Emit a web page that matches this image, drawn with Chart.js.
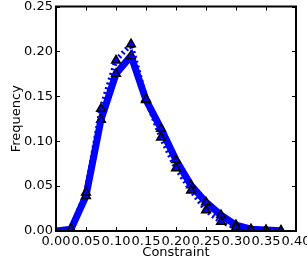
<!DOCTYPE html>
<html>
<head>
<meta charset="utf-8">
<script src="https://cdn.jsdelivr.net/npm/chart.js@4/dist/chart.umd.min.js"></script>
<style>
  html, body { margin: 0; padding: 0; background: #fff; }
  #wrap { width: 307px; height: 269px; }
</style>
</head>
<body>
<div id="wrap"><canvas id="myChart" width="307" height="269"></canvas></div>
<script>
// Constraint bins
const constraint = [0, 0.025, 0.05, 0.075, 0.1, 0.125, 0.15, 0.175, 0.2, 0.225, 0.25, 0.275, 0.3, 0.325, 0.35, 0.375];
// solid line
const freqSolid = [0, 0.002, 0.039, 0.124, 0.175, 0.195, 0.146, 0.114, 0.079, 0.051, 0.032, 0.0177, 0.0066, 0.002, 0.001, 0.0003];
// dotted line
const freqDotted = [0, 0.002, 0.043, 0.136, 0.190, 0.208, 0.147, 0.104, 0.070, 0.045, 0.023, 0.0103, 0.004, 0.001, 0.0005, 0.0002];
// tick labels
const xTicks = [0, 0.05, 0.1, 0.15, 0.2, 0.25, 0.3, 0.35, 0.4];
const yTicks = [0, 0.05, 0.1, 0.15, 0.2, 0.25];

const toPoints = (ys) => constraint.map((x, i) => ({ x: x, y: ys[i] }));
const pointSize = (ctx) => ctx.dataIndex === 0 ? 0 : 5;

// frame + inward ticks on all four sides (matplotlib style)
const framePlugin = {
    id: "frame",
    afterDatasetsDraw(chart) {
        const { ctx, chartArea: a, scales } = chart;
        ctx.save();
        ctx.strokeStyle = "#000";
        ctx.lineWidth = 1;
        scales.x.ticks.forEach(t => {
            const px = Math.round(scales.x.getPixelForValue(t.value)) + 0.5;
            ctx.beginPath();
            ctx.moveTo(px, a.bottom); ctx.lineTo(px, a.bottom - 4);
            ctx.moveTo(px, a.top); ctx.lineTo(px, a.top + 4);
            ctx.stroke();
        });
        scales.y.ticks.forEach(t => {
            const py = Math.round(scales.y.getPixelForValue(t.value)) + 0.5;
            ctx.beginPath();
            ctx.moveTo(a.left, py); ctx.lineTo(a.left + 4, py);
            ctx.moveTo(a.right, py); ctx.lineTo(a.right - 4, py);
            ctx.stroke();
        });
        ctx.lineWidth = 2;
        ctx.strokeRect(a.left, a.top, a.right - a.left, a.bottom - a.top);
        ctx.restore();
    }
};

const font = { family: "'DejaVu Sans'", size: 13 };

new Chart(document.getElementById("myChart"), {
    type: "line",
    data: {
        datasets: [
            {
                label: "solid",
                data: toPoints(freqSolid),
                borderColor: "rgb(0,0,255)",
                borderWidth: 7,
                backgroundColor: "rgb(0,0,255)",
                pointStyle: "triangle",
                pointRadius: pointSize,
                pointBorderColor: "#000",
                pointBorderWidth: 1.5,
                pointBackgroundColor: "rgb(0,0,255)",
                tension: 0,
                order: 2,
            },
            {
                label: "dotted",
                data: toPoints(freqDotted),
                borderColor: "rgb(0,0,255)",
                borderWidth: 5,
                borderDash: [2, 3],
                backgroundColor: "rgb(0,0,255)",
                pointStyle: "triangle",
                pointRadius: pointSize,
                pointBorderColor: "#000",
                pointBorderWidth: 1.5,
                pointBackgroundColor: "rgb(0,0,255)",
                tension: 0,
                order: 1,
            },
        ],
    },
    options: {
        responsive: false,
        animation: false,
        layout: { padding: { top: 5, right: 11, left: 0, bottom: 0 } },
        plugins: { legend: { display: false }, tooltip: { enabled: false } },
        scales: {
            x: {
                type: "linear",
                min: 0,
                max: 0.4,
                afterBuildTicks: (s) => { s.ticks = xTicks.map(v => ({ value: v })); },
                afterFit: (s) => { s.height = 38; s.paddingLeft = 0; s.paddingRight = 0; },
                grid: { display: false, drawTicks: false },
                border: { display: false },
                ticks: {
                    autoSkip: false,
                    maxRotation: 0,
                    padding: 3,
                    color: "#000",
                    font: font,
                    callback: (v) => Number(v).toFixed(2),
                },
                title: { display: true, text: "Constraint", color: "#000", font: font, padding: { top: 0, bottom: 9 } },
            },
            y: {
                min: 0,
                max: 0.25,
                afterBuildTicks: (s) => { s.ticks = yTicks.map(v => ({ value: v })); },
                afterFit: (s) => { s.width = 56; s.paddingTop = 0; s.paddingBottom = 0; },
                grid: { display: false, drawTicks: false },
                border: { display: false },
                ticks: {
                    padding: 3,
                    color: "#000",
                    font: font,
                    callback: (v) => Number(v).toFixed(2),
                },
                title: { display: true, text: "Frequency", color: "#000", font: font, padding: { top: 9, bottom: 0 } },
            },
        },
    },
    plugins: [framePlugin],
});
</script>
</body>
</html>
